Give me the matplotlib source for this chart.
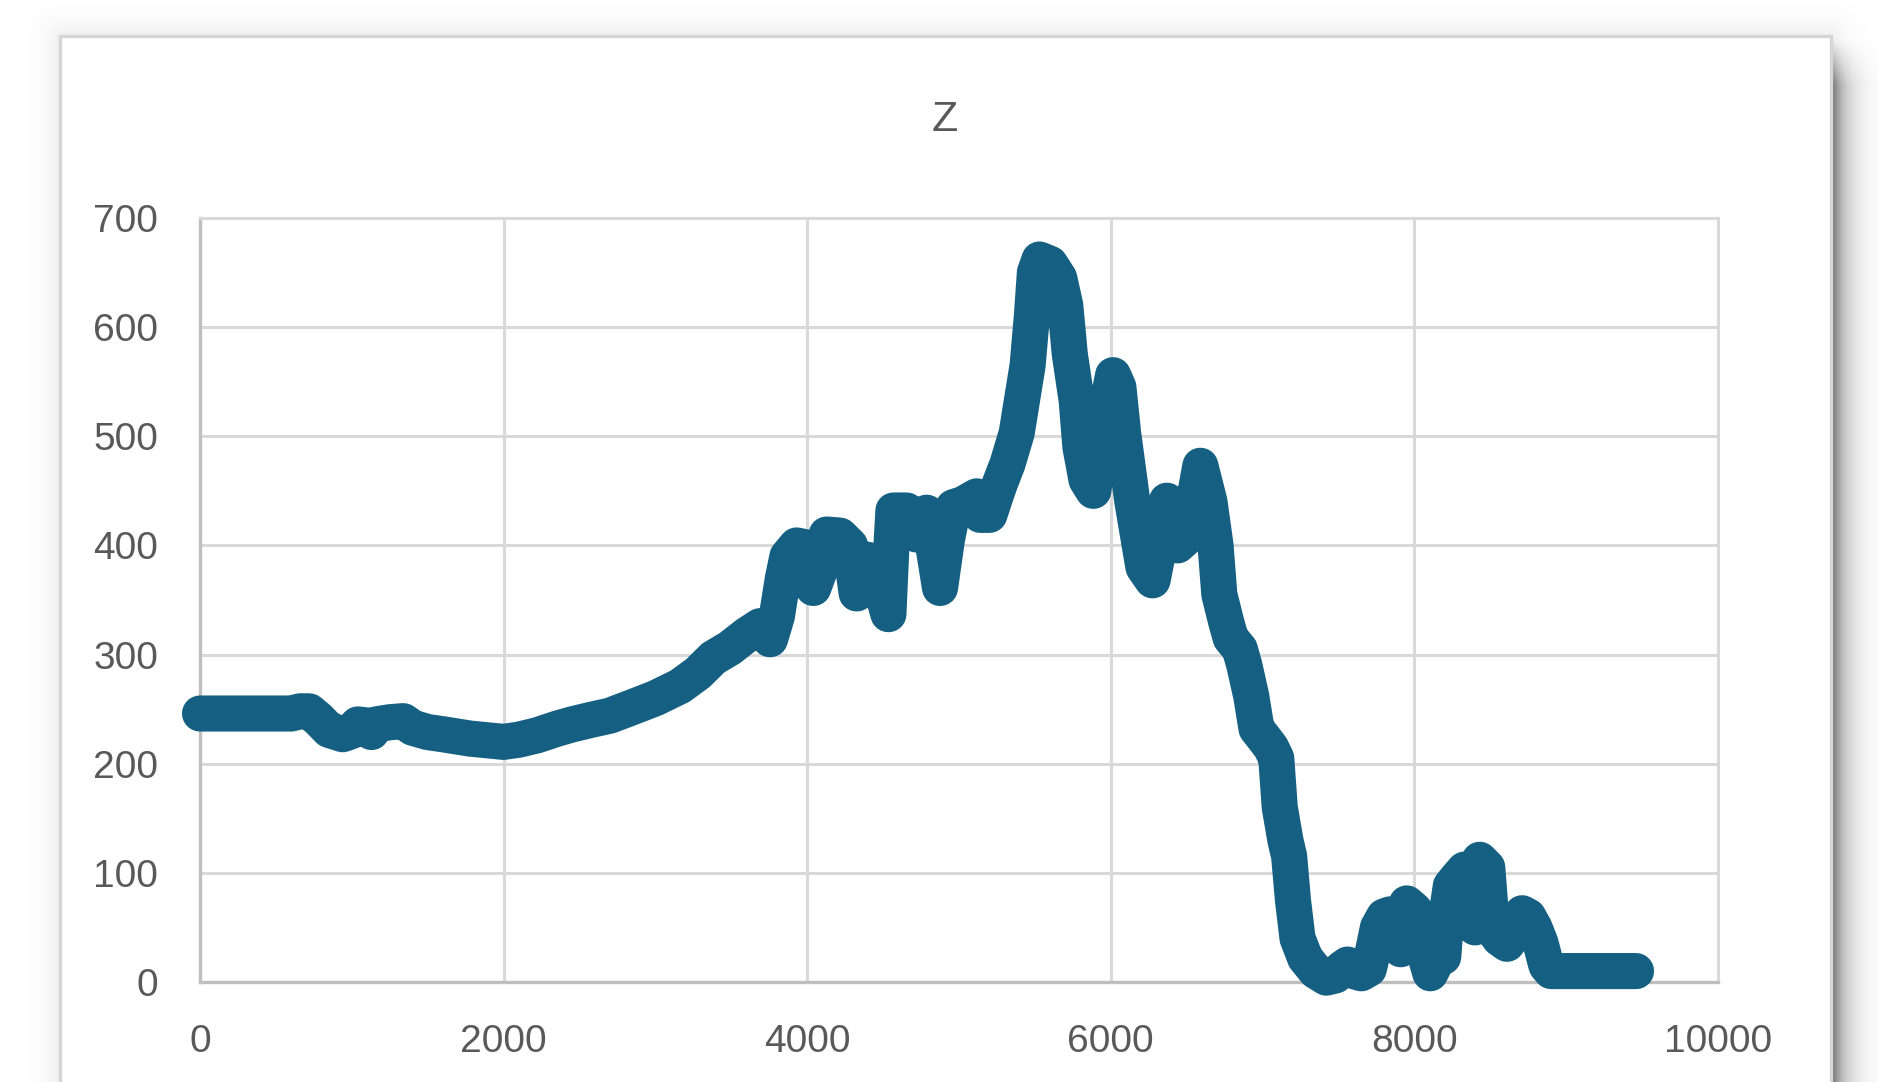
import numpy as np
import matplotlib
matplotlib.use("Agg")
import matplotlib.pyplot as plt
from matplotlib.patches import Rectangle

plt.rcParams['font.family'] = ['Liberation Sans', 'DejaVu Sans']

# values
x_vals = [0, 300, 600, 660, 720, 780, 850, 940, 1000, 1040, 1100, 1130, 1160, 1250, 1340,
          1400, 1500, 1600, 1780, 2000, 2100, 2220, 2350, 2450, 2570, 2700, 2833, 3000,
          3162, 3280, 3382, 3491, 3601, 3689, 3730, 3755, 3800, 3840, 3870, 3930, 3997,
          4040, 4090, 4128, 4216, 4282, 4326, 4370, 4392, 4437, 4535, 4555, 4568, 4655,
          4700, 4720, 4750, 4787, 4830, 4875, 4920, 4963, 5029, 5117, 5140, 5200, 5240,
          5270, 5320, 5380, 5452, 5480, 5500, 5530, 5600, 5660, 5700, 5730, 5775, 5800,
          5840, 5885, 5930, 5962, 6015, 6050, 6081, 6141, 6215, 6275, 6320, 6370, 6410,
          6440, 6480, 6520, 6560, 6590, 6650, 6690, 6715, 6760, 6790, 6850, 6880, 6925,
          6960, 7000, 7055, 7090, 7113, 7150, 7175, 7200, 7230, 7280, 7350, 7420, 7480,
          7520, 7560, 7600, 7650, 7700, 7730, 7760, 7800, 7840, 7870, 7910, 7950, 8000,
          8040, 8080, 8105, 8130, 8150, 8175, 8190, 8210, 8240, 8280, 8330, 8375, 8400,
          8430, 8480, 8510, 8560, 8610, 8660, 8710, 8750, 8790, 8830, 8870, 8900, 9460]
z_vals = [246, 246, 246, 248, 248, 241, 231, 227, 230, 236, 235, 229, 236, 238, 239,
          233, 229, 227, 223, 220, 222, 226, 232, 236, 240, 244, 251, 260,
          271, 283, 297, 306, 318, 326, 325, 314, 335, 370, 390, 400, 398,
          361, 380, 410, 409, 400, 356, 378, 387, 385, 337, 400, 432, 432,
          425, 410, 428, 430, 400, 361, 405, 435, 438, 445, 428, 428, 445,
          457, 475, 503, 565, 610, 650, 662, 658, 645, 620, 575, 533, 490,
          460, 450, 500, 518, 556, 545, 503, 441, 380, 368, 400, 441, 420,
          400, 405, 410, 450, 473, 440, 400, 355, 330, 315, 305, 290, 262,
          232, 225, 215, 205, 160, 130, 115, 75, 40, 22, 10, 4, 6,
          12, 16, 10, 8, 12, 30, 50, 60, 62, 35, 30, 72, 66,
          45, 20, 8, 15, 59, 30, 23, 60, 88, 95, 103, 55, 50,
          112, 105, 50, 40, 35, 45, 63, 60, 50, 36, 15, 10, 10]
x_ticks = [0, 2000, 4000, 6000, 8000, 10000]
y_ticks = [0, 100, 200, 300, 400, 500, 600, 700]

W, H = 1878, 1082
fig = plt.figure(figsize=(W / 100, H / 100), dpi=100)
fig.patch.set_facecolor("white")

# background: chart area frame with soft shadow
bg = fig.add_axes([0, 0, 1, 1], zorder=0)
bg.set_xlim(0, W)
bg.set_ylim(H, 0)
bg.axis("off")

fx0, fy0, fx1 = 60, 36, 1831
xx, yy = np.meshgrid(np.arange(W) + 0.5, np.arange(H) + 0.5)
dx = np.maximum(np.maximum(fx0 - xx, 0), xx - fx1)
dy = np.maximum(fy0 - yy, 0)
d = np.hypot(dx, dy)
alpha = 0.07 * np.exp(-d / 14.0)
right = np.clip(xx - fx1, 0, None)
ramp = np.clip((yy - 40) / 45.0, 0, 1)
alpha += np.where(xx > fx1, 0.55 * np.exp(-right / 14.0) * ramp, 0)
alpha[(dx == 0) & (dy == 0)] = 0
shadow = np.zeros((H, W, 4))
shadow[..., 3] = alpha
bg.imshow(shadow, extent=(0, W, H, 0), interpolation="bilinear", zorder=1)
bg.add_patch(Rectangle((fx0, fy0), fx1 - fx0, H + 20, facecolor="white",
                       edgecolor="#d6d6d6", linewidth=2.4, zorder=2))

# plot area
ax = fig.add_axes([200 / W, 100 / H, 1518 / W, 764 / H], zorder=1)
ax.set_facecolor("none")
ax.plot(x_vals, z_vals, color="#156082", linewidth=26,
        solid_joinstyle="round", solid_capstyle="round", clip_on=False, zorder=3)

ax.set_xlim(0, 10000)
ax.set_ylim(0, 700)
ax.set_xticks(x_ticks)
ax.set_yticks(y_ticks)
ax.set_xticklabels([str(t) for t in x_ticks])
ax.set_yticklabels([str(t) for t in y_ticks])
ax.grid(True, color="#d9d9d9", linewidth=2.2, zorder=0)
ax.set_axisbelow(True)
for side in ["top", "right"]:
    ax.spines[side].set_color("#d9d9d9")
    ax.spines[side].set_linewidth(2.2)
for side in ["left", "bottom"]:
    ax.spines[side].set_color("#bfbfbf")
    ax.spines[side].set_linewidth(2.4)
ax.tick_params(axis="both", length=0, labelsize=28, labelcolor="#595959")
ax.tick_params(axis="y", pad=30)
ax.tick_params(axis="x", pad=30)

fig.text(945 / W, 1 - 120 / H, "Z", ha="center", va="center",
         fontsize=31, color="#595959")

fig.savefig("out.png", dpi=100)
